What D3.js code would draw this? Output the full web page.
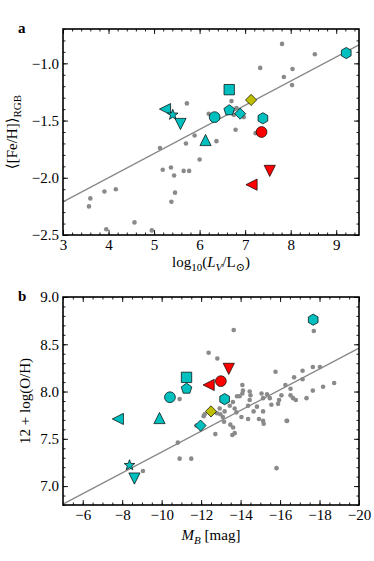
<!DOCTYPE html>
<html>
<head>
<meta charset="utf-8">
<script src="https://cdn.jsdelivr.net/npm/d3@7"></script>
<style>
body { margin: 0; background: #fff; }
svg text { font-family: "Liberation Serif", "DejaVu Serif", serif; fill: #000; }
</style>
</head>
<body>
<svg width="374" height="561"></svg>
<script>
// grey sample, panel a: log10(L_V) vs <[Fe/H]>
var lumGray = [7.81, 8.53, 7.33, 7.85, 8.04, 8.03, 5.72, 6.70, 6.20, 6.81, 6.97, 6.75, 6.79, 7.23, 5.89, 5.70, 6.37, 5.13, 6.00, 5.19, 5.37, 5.44, 5.65, 5.77, 5.46, 5.38, 3.60, 3.57, 3.91, 4.16, 4.57, 3.95, 4.95]
var fehGray = [-0.83, -0.92, -1.04, -1.12, -1.05, -1.19, -1.35, -1.33, -1.44, -1.39, -1.47, -1.45, -1.58, -1.61, -1.63, -1.70, -1.68, -1.74, -1.84, -1.93, -1.91, -1.98, -1.94, -1.94, -2.13, -2.21, -2.18, -2.25, -2.12, -2.10, -2.39, -2.45, -2.46]

// grey sample, panel b: M_B vs 12+log(O/H)
var mbGray = [-17.71, -13.65, -12.38, -12.82, -15.77, -17.66, -18.02, -17.14, -16.71, -17.14, -18.74, -16.27, -18.18, -16.53, -17.66, -16.07, -15.95, -15.90, -16.53, -16.66, -16.80, -17.34, -16.33,
	-10.91, -14.09, -14.12, -14.46, -14.09, -14.50, -13.82, -13.95, -15.06, -15.34, -15.14, -15.48, -14.46, -15.56, -13.61, -14.38, -13.45, -14.83, -13.70, -12.94, -13.19, -12.80, -12.18, -13.10, -14.66, -15.14, -14.93, -13.79,
	-12.13, -12.97, -13.16, -13.48, -13.62, -12.72, -13.58, -13.70, -14.04, -14.38, -15.14, -15.17, -10.91, -11.50, -15.82, -16.36, -9.05, -10.82, -11.76]
var ohGray = [8.64, 8.65, 8.41, 8.35, 8.21, 8.26, 8.26, 8.22, 8.15, 8.13, 8.09, 8.07, 8.05, 8.03, 8.01, 7.96, 7.91, 7.87, 7.96, 7.93, 7.91, 7.93, 7.69,
	7.92, 8.07, 8.01, 8.00, 7.98, 7.96, 7.95, 7.95, 7.98, 7.97, 7.93, 7.93, 7.91, 7.86, 7.89, 7.85, 7.85, 7.84, 7.82, 7.82, 7.79, 7.77, 7.76, 7.73, 7.79, 7.79, 7.71, 7.78,
	7.74, 7.76, 7.68, 7.65, 7.62, 7.55, 7.54, 7.56, 7.73, 7.71, 7.69, 7.66, 7.29, 7.29, 7.19, 7.69, 7.16, 7.46, 7.64]

// highlighted galaxies (same order in both panels)
var galaxyIds = ["g1", "g2", "g3", "g4", "g5", "g6", "g7", "g8", "g9", "g10", "g11", "g12", "g13", "g14"]
var galaxySet = ["set1", "set1", "set1", "set1", "set1", "set1", "set1", "set1", "set1", "set1", "set2", "set3", "set3", "set3"]
var galaxyLum = [9.22, 6.65, 5.24, 5.41, 5.58, 6.33, 6.65, 6.89, 7.39, 6.13, 7.13, 7.36, 7.14, 7.54]
var galaxyFeh = [-0.91, -1.23, -1.40, -1.45, -1.53, -1.47, -1.41, -1.44, -1.48, -1.67, -1.32, -1.60, -2.06, -1.94]
var galaxyMb = [-17.68, -11.26, -7.78, -8.37, -8.62, -10.42, -11.26, -11.97, -13.19, -9.89, -12.50, -13.00, -12.38, -13.40]
var galaxyOh = [8.76, 8.15, 7.71, 7.22, 7.08, 7.94, 8.03, 7.64, 7.92, 7.72, 7.79, 8.11, 8.07, 8.24]

// linear fits  y = intercept + slope * x
var fitA = [-2.843, 0.211]
var fitB = [6.26, -0.110]

var xTicksA = [3, 4, 5, 6, 7, 8, 9]
var yTicksA = [-2.5, -2.0, -1.5, -1.0]
var xTicksB = [-6, -8, -10, -12, -14, -16, -18, -20]
var yTicksB = [7.0, 7.5, 8.0, 8.5, 9.0]

var svg = d3.select("svg")
var left = 63, right = 359

var setColor = d3.scaleOrdinal().domain(["set1", "set2", "set3"]).range(["#00bfbf", "#bfbf00", "#ff0000"])
var markerShape = d3.scaleOrdinal().domain(galaxyIds)
	.range(["hexagon", "square", "triLeft", "star", "triDown", "circle", "pentagon", "diamond", "hexagon", "triUp", "diamond", "circle", "triLeft", "triDown"])

function polygon(n, r, rot) {
	var pts = []
	for (var i = 0; i < n; i++) {
		var a = rot + i * 2 * Math.PI / n
		pts.push([r * Math.sin(a), -r * Math.cos(a)])
	}
	return "M" + pts.map(function(p) { return p[0].toFixed(2) + "," + p[1].toFixed(2) }).join("L") + "Z"
}

function markerPath(kind) {
	var r = 5.6
	if (kind == "circle") return d3.symbol(d3.symbolCircle, Math.PI * 5.4 * 5.4)()
	if (kind == "square") return "M-5.2,-5.2L5.2,-5.2L5.2,5.2L-5.2,5.2Z"
	if (kind == "diamond") return "M0,-5.6L5.6,0L0,5.6L-5.6,0Z"
	if (kind == "pentagon") return polygon(5, r, 0)
	if (kind == "hexagon") return polygon(6, r, 0)
	if (kind == "triUp") return "M0,-5.6L5.6,5.6L-5.6,5.6Z"
	if (kind == "triDown") return "M0,5.6L5.6,-5.6L-5.6,-5.6Z"
	if (kind == "triLeft") return "M-5.6,0L5.6,-5.6L5.6,5.6Z"
	if (kind == "star") {
		var pts = []
		for (var i = 0; i < 10; i++) {
			var rr = i % 2 ? r * 0.42 : r
			var a = i * Math.PI / 5
			pts.push([rr * Math.sin(a), -rr * Math.cos(a)])
		}
		return "M" + pts.map(function(p) { return p[0].toFixed(2) + "," + p[1].toFixed(2) }).join("L") + "Z"
	}
}

function fmt(v, digits) {
	return v.toFixed(digits).replace("-", "\u2212")
}

function drawPanel(top, bottom, x, y, xMaj, xMin, yMaj, yMin, xDigits, yDigits, grayX, grayY, galX, galY, fit) {
	var g = svg.append("g")
	var h = bottom - top

	var axG = g.append("g").attr("class", "axes")
	axG.append("g").attr("transform", "translate(0," + bottom + ")")
		.call(d3.axisBottom(x).tickValues(xMaj).tickSize(-5).tickPadding(4.5).tickFormat(function(d) { return fmt(d, xDigits) }))
	axG.append("g").attr("transform", "translate(0," + bottom + ")")
		.call(d3.axisBottom(x).tickValues(xMin).tickSize(-2.5).tickFormat(""))
	axG.append("g").attr("transform", "translate(0," + top + ")")
		.call(d3.axisTop(x).tickValues(xMaj).tickSize(-5).tickFormat(""))
	axG.append("g").attr("transform", "translate(0," + top + ")")
		.call(d3.axisTop(x).tickValues(xMin).tickSize(-2.5).tickFormat(""))
	axG.append("g").attr("transform", "translate(" + left + ",0)")
		.call(d3.axisLeft(y).tickValues(yMaj).tickSize(-5).tickPadding(4).tickFormat(function(d) { return fmt(d, yDigits) }))
	axG.append("g").attr("transform", "translate(" + left + ",0)")
		.call(d3.axisLeft(y).tickValues(yMin).tickSize(-2.5).tickFormat(""))
	axG.append("g").attr("transform", "translate(" + right + ",0)")
		.call(d3.axisRight(y).tickValues(yMaj).tickSize(-5).tickFormat(""))
	axG.append("g").attr("transform", "translate(" + right + ",0)")
		.call(d3.axisRight(y).tickValues(yMin).tickSize(-2.5).tickFormat(""))

	axG.selectAll(".domain").remove()
	axG.selectAll("g").attr("font-family", null).attr("font-size", null)
	axG.selectAll(".tick line").attr("stroke", "#000").attr("stroke-width", 0.9)
	axG.selectAll(".tick text").style("font-size", "15px")

	// grey sample
	g.append("g").selectAll("circle")
		.data(grayX)
		.enter().append("circle")
		.attr("cx", function(d) { return x(d) })
		.attr("cy", function(d, i) { return y(grayY[i]) })
		.attr("r", 2.3)
		.attr("fill", "#8a8a8a")

	// fit line
	var x0 = x.domain()[0], x1 = x.domain()[1]
	g.append("line")
		.attr("x1", x(x0)).attr("y1", y(fit[0] + fit[1] * x0))
		.attr("x2", x(x1)).attr("y2", y(fit[0] + fit[1] * x1))
		.attr("stroke", "#888")
		.attr("stroke-width", 1.3)

	// highlighted galaxies
	g.append("g").selectAll("path")
		.data(galaxyIds)
		.enter().append("path")
		.attr("d", function(d) { return markerPath(markerShape(d)) })
		.attr("transform", function(d, i) { return "translate(" + x(galX[i]) + "," + y(galY[i]) + ")" })
		.attr("fill", function(d, i) { return setColor(galaxySet[i]) })
		.attr("stroke", "#000")
		.attr("stroke-width", 0.7)

	g.append("rect")
		.attr("x", left).attr("y", top)
		.attr("width", right - left).attr("height", h)
		.attr("fill", "none")
		.attr("stroke", "#000")
		.attr("stroke-width", 1.6)
	return g
}

function steps(a, b, s) {
	return d3.range(Math.round((b - a) / s) + 1).map(function(i) { return +(a + i * s).toFixed(3) })
}

// panel a
var topA = 29, bottomA = 235
var xA = d3.scaleLinear().domain([3, 9.5]).range([left, right])
var yA = d3.scaleLinear().domain([-2.5, -0.7]).range([bottomA, topA])
drawPanel(topA, bottomA, xA, yA, xTicksA, steps(3, 9.4, 0.2), yTicksA, steps(-2.5, -0.7, 0.1), 0, 1,
	lumGray, fehGray, galaxyLum, galaxyFeh, fitA)

// panel b
var topB = 297, bottomB = 505
var xB = d3.scaleLinear().domain([-5, -20]).range([left, right])
var yB = d3.scaleLinear().domain([6.8, 9.0]).range([bottomB, topB])
drawPanel(topB, bottomB, xB, yB, xTicksB, steps(-20, -5, 0.5).reverse(), yTicksB, steps(6.8, 9.0, 0.1), 0, 1,
	mbGray, ohGray, galaxyMb, galaxyOh, fitB)

// panel letters
svg.append("text").attr("x", 18).attr("y", 33).attr("font-weight", "bold").style("font-size", "15px").text("a")
svg.append("text").attr("x", 18).attr("y", 301).attr("font-weight", "bold").style("font-size", "15px").text("b")

// axis labels
var lab = svg.append("text").attr("x", 211).attr("y", 267).attr("text-anchor", "middle").style("font-size", "15px")
lab.append("tspan").text("log")
lab.append("tspan").attr("dy", 4).style("font-size", "11px").text("10")
lab.append("tspan").attr("dy", -4).text("(")
lab.append("tspan").attr("font-style", "italic").text("L")
lab.append("tspan").attr("dy", 4).attr("font-style", "italic").style("font-size", "11px").text("V")
lab.append("tspan").attr("dy", -4).text("/L")
lab.append("tspan").attr("dy", 4).style("font-size", "11px").text("\u2299")
lab.append("tspan").attr("dy", -4).text(")")

var labB = svg.append("text").attr("x", 211).attr("y", 540).attr("text-anchor", "middle").style("font-size", "15px")
labB.append("tspan").attr("font-style", "italic").text("M")
labB.append("tspan").attr("dy", 4).attr("font-style", "italic").style("font-size", "11px").text("B")
labB.append("tspan").attr("dy", -4).text(" [mag]")

var ylA = svg.append("text").attr("transform", "translate(17," + (topA + bottomA) / 2 + ") rotate(-90)")
	.attr("text-anchor", "middle").style("font-size", "15px")
ylA.append("tspan").text("\u27e8[Fe/H]\u27e9")
ylA.append("tspan").attr("dy", 4).style("font-size", "11px").text("RGB")

svg.append("text").attr("transform", "translate(30," + (topB + bottomB) / 2 + ") rotate(-90)")
	.attr("text-anchor", "middle").style("font-size", "15px")
	.text("12 + log(O/H)")
</script>
</body>
</html>
